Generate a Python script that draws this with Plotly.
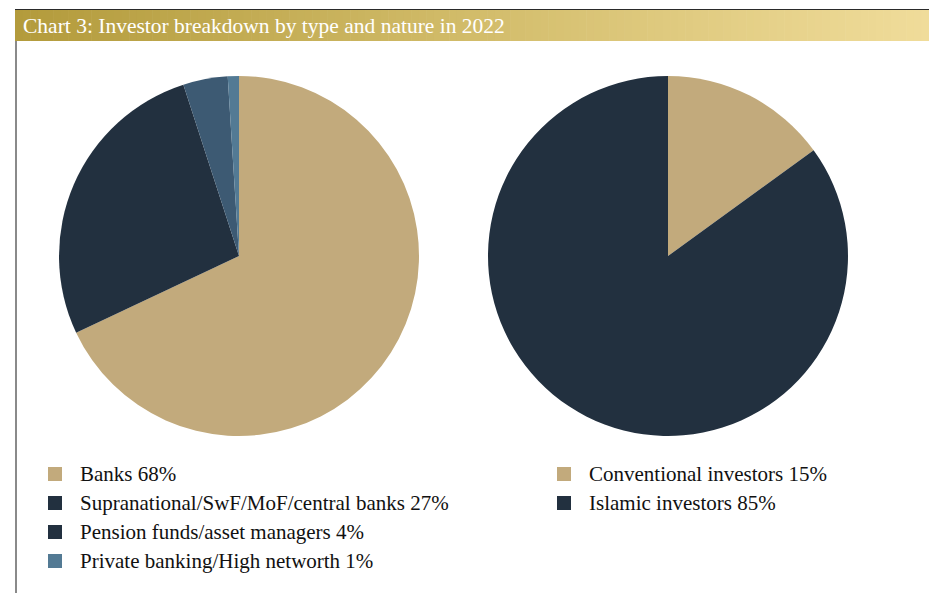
import plotly.graph_objects as go

W, H = 929, 593

# Investor breakdown by type
type_labels = ["Banks", "Supranational/SwF/MoF/central banks",
               "Pension funds/asset managers", "Private banking/High networth"]
type_values = [68, 27, 4, 1]
type_colors = ["#C2AA7C", "#22303F", "#3D5A73", "#537A94"]
type_legend_colors = ["#C2AA7C", "#22303F", "#22303F", "#537A94"]

# Investor breakdown by nature
nature_labels = ["Conventional investors", "Islamic investors"]
nature_values = [15, 85]
nature_colors = ["#C2AA7C", "#22303F"]

title_text = "Chart 3: Investor breakdown by type and nature in 2022"

FONT = "Liberation Serif, DejaVu Serif, serif"


def px_x(x):
    return x / W


def px_y(y):
    return 1 - y / H


fig = go.Figure()

fig.add_trace(go.Pie(
    labels=type_labels, values=type_values,
    marker=dict(colors=type_colors, line=dict(width=0)),
    sort=False, direction="clockwise", rotation=0,
    textinfo="none", hoverinfo="label+percent", showlegend=False,
    domain=dict(x=[px_x(59), px_x(419)], y=[px_y(436), px_y(76)]),
))

fig.add_trace(go.Pie(
    labels=nature_labels, values=nature_values,
    marker=dict(colors=nature_colors, line=dict(width=0)),
    sort=False, direction="clockwise", rotation=0,
    textinfo="none", hoverinfo="label+percent", showlegend=False,
    domain=dict(x=[px_x(488), px_x(848)], y=[px_y(436), px_y(76)]),
))

shapes = []
annotations = []

# Gold gradient header band
c0 = (0xB3, 0x9B, 0x3C)
c1 = (0xD2, 0xBC, 0x6A)
c2 = (0xF0, 0xDC, 0x9A)
x_start, x_end = 15, W
steps = 120
for i in range(steps):
    t = i / (steps - 1)
    if t < 0.5:
        u = t / 0.5
        col = tuple(round(c0[k] + (c1[k] - c0[k]) * u) for k in range(3))
    else:
        u = (t - 0.5) / 0.5
        col = tuple(round(c1[k] + (c2[k] - c1[k]) * u) for k in range(3))
    xa = x_start + (x_end - x_start) * i / steps
    xb = x_start + (x_end - x_start) * (i + 1) / steps + 0.6
    shapes.append(dict(type="rect", xref="paper", yref="paper",
                       x0=px_x(xa), x1=px_x(min(xb, W)),
                       y0=px_y(41), y1=px_y(10),
                       fillcolor="rgb(%d,%d,%d)" % col, line=dict(width=0),
                       layer="below"))

# Thin dark rule above the header band
shapes.append(dict(type="line", xref="paper", yref="paper",
                   x0=px_x(15), x1=1, y0=px_y(9.5), y1=px_y(9.5),
                   line=dict(color="#2a2a2a", width=1.2)))
# Left frame rule
shapes.append(dict(type="line", xref="paper", yref="paper",
                   x0=px_x(16), x1=px_x(16), y0=px_y(41), y1=0,
                   line=dict(color="#8a8a8a", width=2)))

annotations.append(dict(text=title_text, xref="paper", yref="paper",
                        x=px_x(21), y=px_y(25.5), xanchor="left", yanchor="middle",
                        showarrow=False,
                        font=dict(family=FONT, size=21.5, color="#FFFFFF")))


def add_legend(labels, values, colors, sq_x, text_x, y_first, dy):
    for i, (lab, val, col) in enumerate(zip(labels, values, colors)):
        yc = y_first + i * dy
        shapes.append(dict(type="rect", xref="paper", yref="paper",
                           x0=px_x(sq_x), x1=px_x(sq_x + 14),
                           y0=px_y(yc + 7), y1=px_y(yc - 7),
                           fillcolor=col, line=dict(width=0)))
        annotations.append(dict(text=f"{lab} {val}%", xref="paper", yref="paper",
                                x=px_x(text_x), y=px_y(yc), xanchor="left",
                                yanchor="middle", showarrow=False,
                                font=dict(family=FONT, size=21, color="#111111")))


add_legend(type_labels, type_values, type_legend_colors, 48, 78, 474, 29)
add_legend(nature_labels, nature_values, nature_colors, 557, 587, 474, 29)

fig.update_layout(
    width=W, height=H,
    margin=dict(l=0, r=0, t=0, b=0),
    paper_bgcolor="white", plot_bgcolor="white",
    shapes=shapes, annotations=annotations,
    showlegend=False,
)

fig.write_html("out.html")
